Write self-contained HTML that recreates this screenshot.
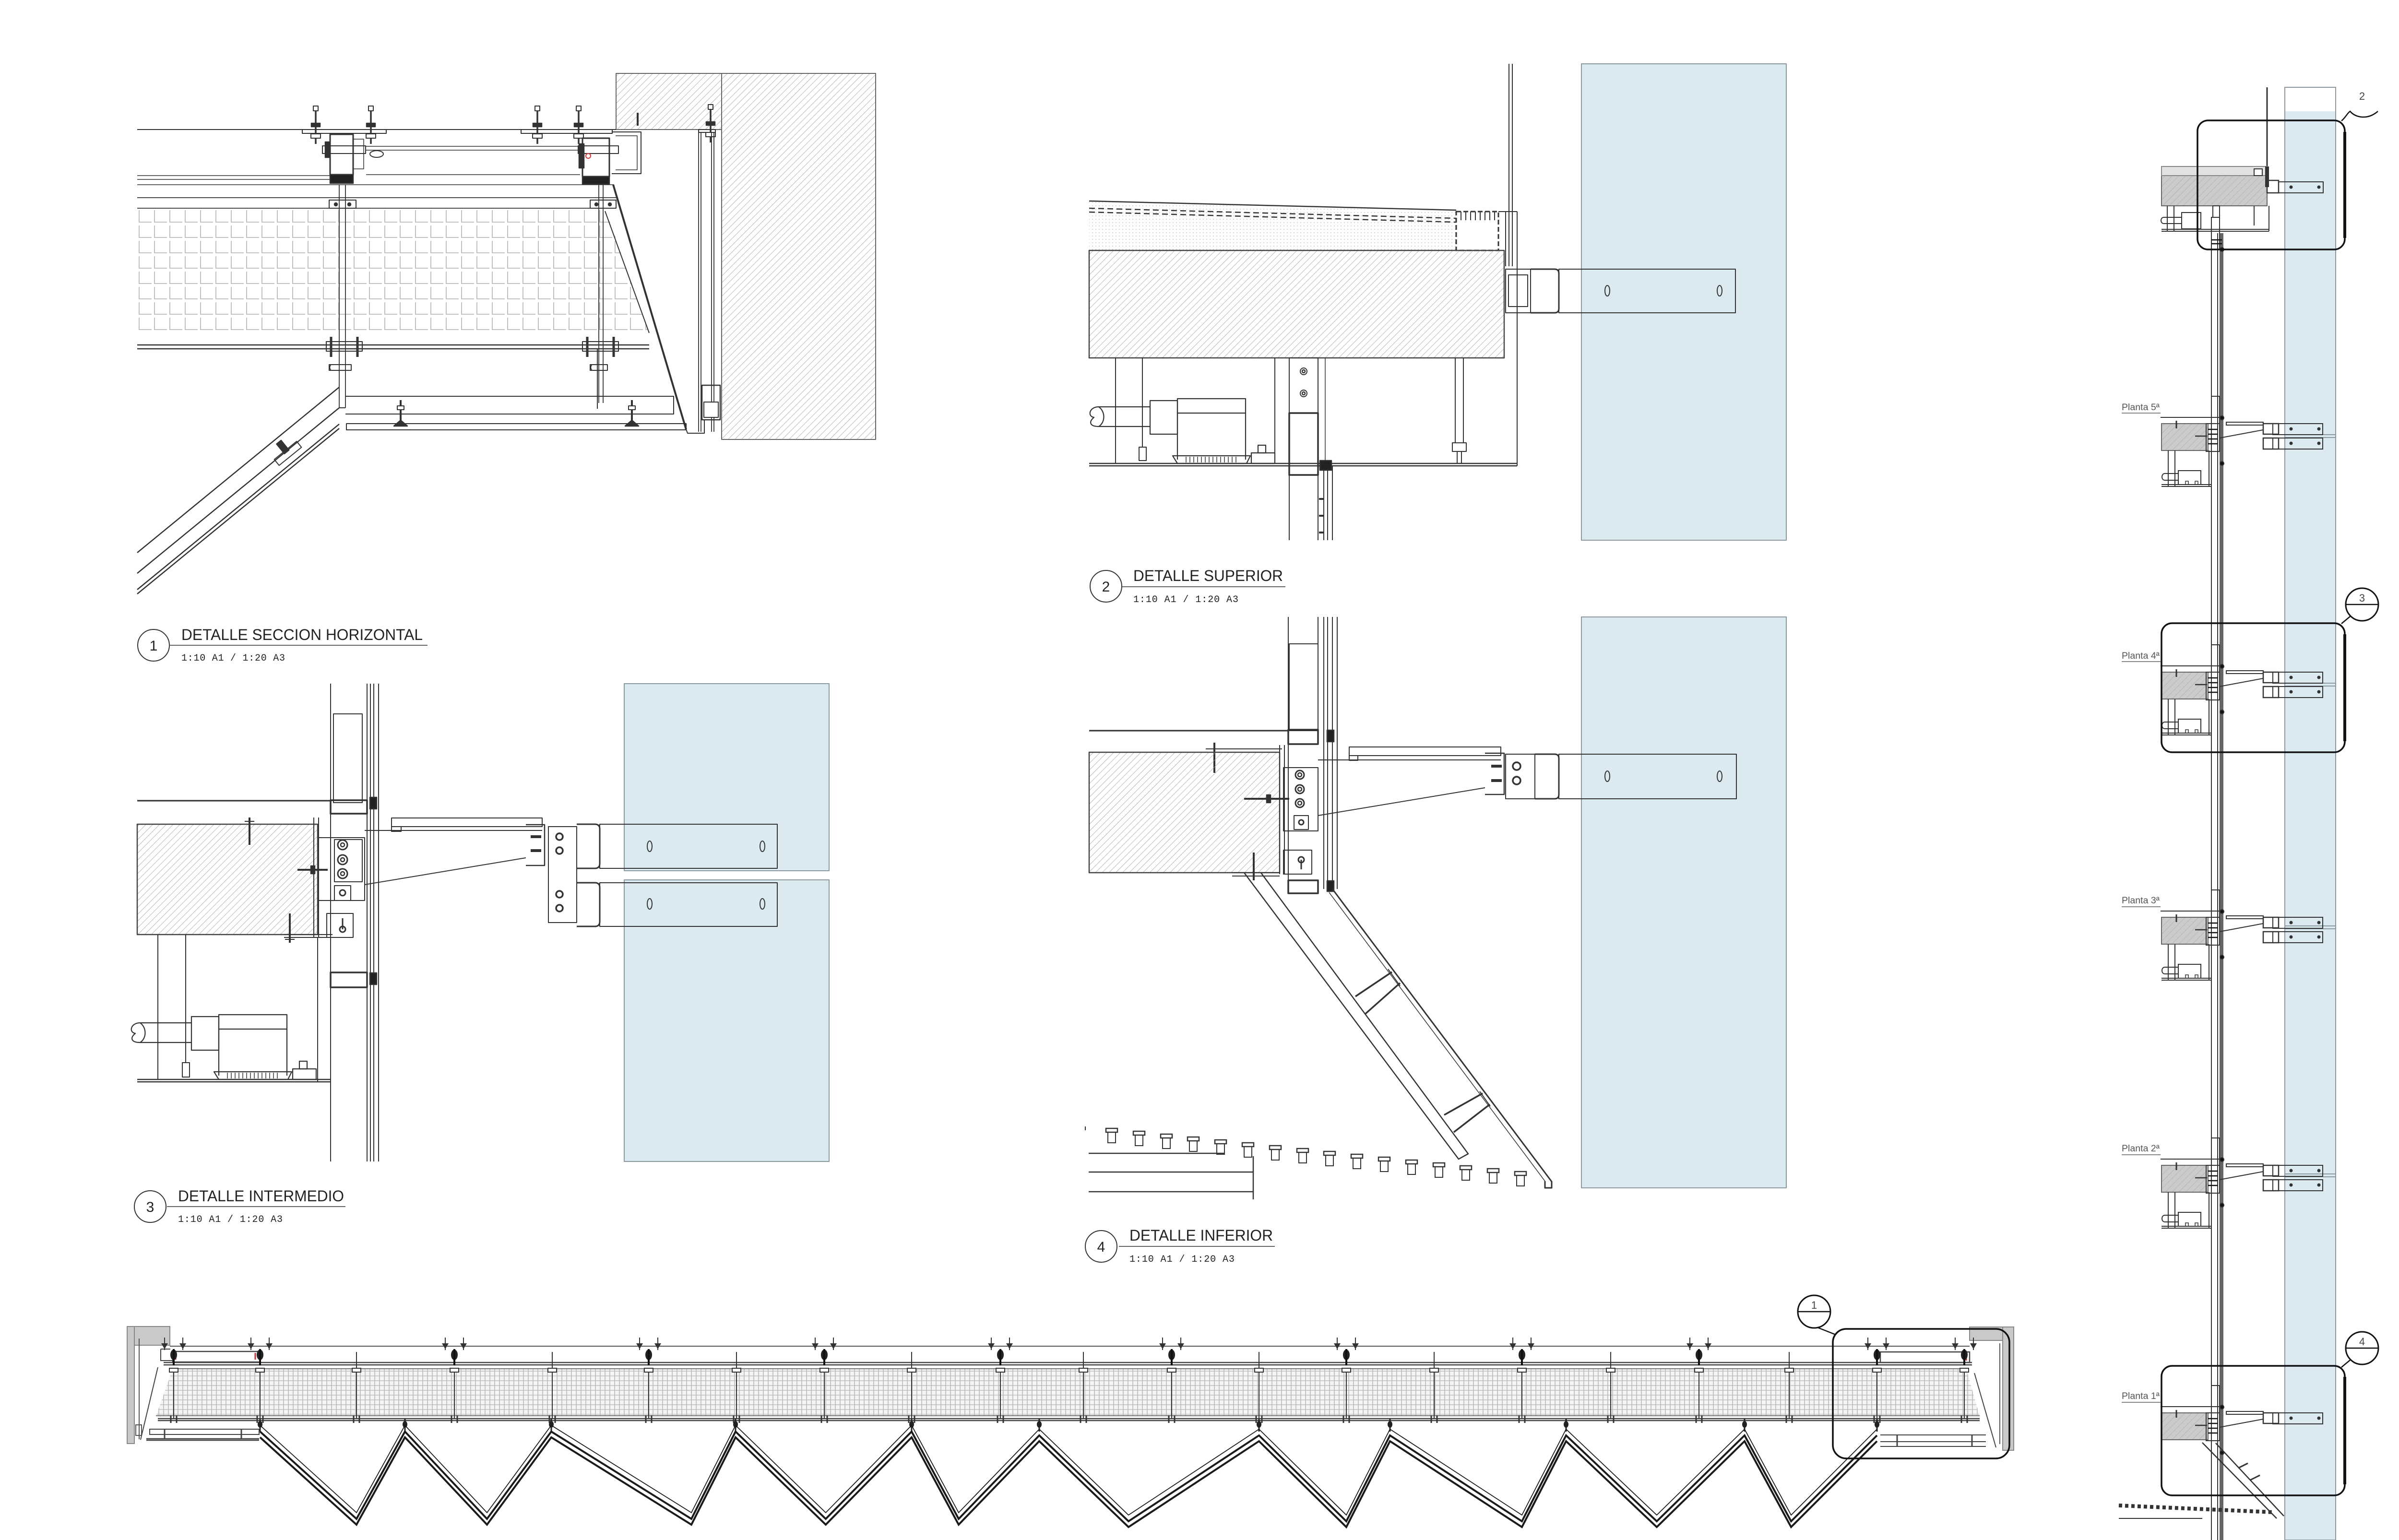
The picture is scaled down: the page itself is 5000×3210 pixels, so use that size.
<!DOCTYPE html>
<html><head><meta charset="utf-8"><title>Detalles fachada</title>
<style>
html,body{margin:0;padding:0;background:#fff;width:5000px;height:3210px;overflow:hidden}
svg{display:block}
</style></head><body>
<svg xmlns="http://www.w3.org/2000/svg" width="5000" height="3210" viewBox="0 0 5000 3210" font-family="'Liberation Sans', Arial, sans-serif">
<defs>
<pattern id="hat" width="10" height="10" patternUnits="userSpaceOnUse" patternTransform="rotate(45)"><line x1="0" y1="0" x2="0" y2="10" stroke="#a2a2a2" stroke-width="1.5"/></pattern>
<pattern id="hatg" width="10" height="10" patternUnits="userSpaceOnUse" patternTransform="rotate(45)"><rect width="10" height="10" fill="#cbcbcb"/><line x1="0" y1="0" x2="0" y2="10" stroke="#adadad" stroke-width="1.5"/></pattern>
<pattern id="grid" x="286" y="435" width="32" height="32" patternUnits="userSpaceOnUse"><path d="M4 3V28H30" fill="none" stroke="#b8b8b8" stroke-width="1.8"/></pattern>
<pattern id="mesh" x="0" y="2853" width="10" height="10" patternUnits="userSpaceOnUse"><rect width="10" height="10" fill="#f5f5f5"/><line x1="1" y1="0" x2="1" y2="10" stroke="#ababab" stroke-width="1.3"/><line x1="0" y1="5" x2="10" y2="5" stroke="#b8b8b8" stroke-width="1.3"/></pattern>
<pattern id="dots" width="7" height="7" patternUnits="userSpaceOnUse"><circle cx="2" cy="2" r="0.9" fill="#b5b5b5"/></pattern>

<g id="stud">
 <line x1="0" y1="0" x2="0" y2="75" stroke="#333" stroke-width="3.5"/>
 <rect x="-5" y="-4" width="10" height="10" fill="#fff" stroke="#333" stroke-width="2"/>
 <rect x="-9" y="32" width="18" height="7" fill="#333"/>
 <rect x="-10" y="54" width="20" height="9" fill="#fff" stroke="#333" stroke-width="2"/>
</g>

<g id="eq" fill="none" stroke="#333" stroke-width="2.2">
 <path d="M2290 848H2397 M2290 889H2397"/>
 <path d="M2290 848C2270 848 2266 868 2280 870C2268 880 2272 889 2290 889"/>
 <path d="M2290 848C2304 858 2304 880 2290 889"/>
 <rect x="2397" y="835" width="57" height="70"/>
 <rect x="2454" y="831" width="142" height="30"/>
 <path d="M2454 861V958 M2596 861V958"/>
 <path d="M2444 950L2454 966H2598L2606 950Z"/>
 <path d="M2472 952v12 M2480 952v12 M2488 952v12 M2496 952v12 M2504 952v12 M2512 952v12 M2520 952v12 M2528 952v12 M2536 952v12 M2544 952v12 M2552 952v12 M2560 952v12 M2568 952v12 M2576 952v12" stroke-width="1.5"/>
 <rect x="2608" y="944" width="49" height="22"/>
 <rect x="2622" y="928" width="16" height="16"/>
</g>

<g id="hg">
 <path d="M-19 2788V2814 M19 2788V2814" stroke="#333" stroke-width="2"/>
 <path d="M-26 2800L-19 2812L-12 2800Z M12 2800L19 2812L26 2800Z" fill="#333"/>
 <ellipse cx="0" cy="2824" rx="7" ry="11" fill="#222"/>
 <path d="M0 2812V2846" stroke="#111" stroke-width="4"/>
 <rect x="-9" y="2852" width="18" height="8" fill="#fff" stroke="#333" stroke-width="2"/>
 <path d="M0 2860V2957" stroke="#333" stroke-width="2"/>
 <path d="M-6 2950V2966 M6 2950V2966" stroke="#333" stroke-width="3"/>
</g>
<g id="rod">
 <path d="M0 2818V2957" stroke="#333" stroke-width="2"/>
 <rect x="-9" y="2852" width="18" height="8" fill="#fff" stroke="#333" stroke-width="2"/>
 <path d="M-6 2950V2966 M6 2950V2966" stroke="#333" stroke-width="3"/>
</g>
<g id="knob">
 <path d="M0 2957V2984" stroke="#222" stroke-width="3"/>
 <ellipse cx="0" cy="2969" rx="5" ry="7" fill="#222"/>
</g>

<g id="lamp">
 <rect x="-12" y="0" width="24" height="8" fill="#fff" stroke="#333" stroke-width="2.5"/>
 <rect x="-8" y="8" width="16" height="22" fill="none" stroke="#333" stroke-width="2"/>
</g>

<g id="flb" fill="none" stroke="#333" stroke-width="2">
 <path d="M4422 -22H4503" stroke="#888"/>
 <path d="M4503 -13H4627"/>
 <rect x="4505" y="0" width="97" height="56" fill="url(#hatg)" stroke="#666"/>
 <path d="M4536 -6V10" stroke-width="3"/>
 <rect x="4609" y="-57" width="17" height="57"/>
 <rect x="4598" y="0" width="28" height="58"/>
 <path d="M4602 12h20 M4602 22h20 M4602 32h20 M4602 42h20" stroke="#111" stroke-width="2.5"/>
 <path d="M4575 26h25" stroke-width="2.5"/>
 <circle cx="4631" cy="-12" r="4" fill="#111"/>
 <circle cx="4631" cy="83" r="4" fill="#111"/>
 <rect x="4640" y="-3" width="77" height="6"/>
 <path d="M4626 30L4717 13"/>
 <rect x="4717" y="0" width="32" height="22" stroke-width="2.5"/>
 <rect x="4737" y="0" width="104" height="23"/>
 <circle cx="4775" cy="11" r="2.5" fill="#333"/><circle cx="4833" cy="11" r="2.5" fill="#333"/>
</g>
<g id="flbr" fill="none" stroke="#333" stroke-width="2">
 <rect x="4717" y="30" width="32" height="23" stroke-width="2.5"/>
 <rect x="4737" y="30" width="104" height="23"/>
 <circle cx="4775" cy="41" r="2.5" fill="#333"/><circle cx="4833" cy="41" r="2.5" fill="#333"/>
</g>
<g id="fleq" fill="none" stroke="#333" stroke-width="2">
 <path d="M4519 56V131 M4533 56V131 M4604 56V131"/>
 <path d="M4505 127H4609 M4505 131H4609"/>
 <rect x="4540" y="98" width="47" height="29"/>
 <path d="M4512 104h28 M4512 118h28 M4512 104c-8 0 -8 14 0 14"/>
 <path d="M4555 128v-8h6v8 M4575 128v-8h6v8" stroke-width="1.5"/>
</g>
</defs>

<rect width="5000" height="3210" fill="#fff"/>

<!-- ================= DETAIL 1 ================= -->
<g fill="none" stroke="#333" stroke-width="2.5" stroke-linejoin="round">
 <rect x="1284" y="153" width="220" height="117" fill="url(#hat)" stroke="#666" stroke-width="2"/>
 <rect x="1504" y="153" width="321" height="763" fill="url(#hat)" stroke="#666" stroke-width="2"/>
 <path d="M286 270H1284" stroke-width="2"/>
 <path d="M630 270H805V278H630Z M1086 270H1276V278H1086Z" stroke-width="2"/>
 <use href="#stud" x="658" y="225"/>
 <use href="#stud" x="773" y="225"/>
 <use href="#stud" x="1120" y="225"/>
 <use href="#stud" x="1206" y="225"/>
 <use href="#stud" x="1481" y="222"/>
 <path d="M1329 235V262" stroke-width="4"/>
 <path d="M1275 275H1336V362H1275" stroke-width="2"/>
 <path d="M1283 283H1328V354H1283" stroke-width="1.5"/>
 <rect x="688" y="280" width="48" height="84" stroke-width="3"/>
 <rect x="672" y="304" width="90" height="16" stroke-width="2"/>
 <rect x="678" y="296" width="8" height="32" fill="#333"/>
 <rect x="688" y="364" width="48" height="18" fill="#222"/>
 <rect x="736" y="290" width="22" height="62" stroke-width="1.5"/>
 <ellipse cx="785" cy="321" rx="14" ry="7" stroke-width="2"/>
 <rect x="1214" y="288" width="56" height="80" stroke-width="3"/>
 <rect x="1205" y="304" width="84" height="16" stroke-width="2"/>
 <rect x="1214" y="368" width="56" height="16" fill="#222"/>
 <rect x="1207" y="300" width="10" height="50" fill="#333"/>
 <circle cx="1226" cy="325" r="5" stroke="#d33" stroke-width="2"/>
 <path d="M763 305H1209 M763 313H1209 M763 364H1209" stroke-width="1.6"/>
 <path d="M286 366H688 M286 374H688 M286 385H1280" stroke-width="1.6"/>
 <path d="M286 412H1284 M286 434H1262" stroke-width="1.8"/>
 <rect x="686" y="417" width="56" height="17" stroke-width="2"/>
 <rect x="1230" y="417" width="54" height="17" stroke-width="2"/>
 <circle cx="700" cy="426" r="3" fill="#333"/><circle cx="728" cy="426" r="3" fill="#333"/>
 <circle cx="1243" cy="426" r="3" fill="#333"/><circle cx="1271" cy="426" r="3" fill="#333"/>
 <polygon points="286,435 1262,435 1353,694 286,694" fill="url(#grid)" stroke="none"/>
 <path d="M1261 440L1353 694" stroke-width="2"/>
 <path d="M707 385V850 M720 385V850 M1248 385V840 M1257 385V840" stroke-width="1.8"/>
 <path d="M286 719H1353 M286 727H1353" stroke-width="2.5"/>
 <rect x="680" y="712" width="75" height="20" stroke-width="2"/>
 <path d="M690 702V744 M745 702V744" stroke-width="5"/>
 <rect x="1214" y="712" width="75" height="20" stroke-width="2"/>
 <path d="M1224 702V744 M1279 702V744" stroke-width="5"/>
 <path d="M686 760h46v12h-46z M1230 760h36v12h-36z" stroke-width="2"/>
 <path d="M690 760a8 8 0 0 0 0 12 M1234 760a8 8 0 0 0 0 12" stroke-width="2"/>
 <path d="M720 826H1404V863H720" stroke-width="2"/>
 <path d="M707 850H720 M1245 727V852" stroke-width="2"/>
 <rect x="722" y="883" width="708" height="13" stroke-width="2"/>
 <path d="M835 834V885 M1317 834V885" stroke-width="4"/>
 <path d="M821 888L835 876L849 888Z M1303 888L1317 876L1331 888Z" fill="#333"/>
 <rect x="828" y="846" width="14" height="8" fill="#fff" stroke-width="2"/>
 <rect x="1310" y="846" width="14" height="8" fill="#fff" stroke-width="2"/>
 <path d="M1278 385L1430 895" stroke-width="4"/>
 <path d="M1456 275V900 M1461 275V900 M1483 275V900 M1488 275V900" stroke-width="1.8"/>
 <rect x="1456" y="270" width="35" height="6" stroke-width="2"/>
 <rect x="1463" y="803" width="38" height="72" stroke-width="2.5"/>
 <rect x="1467" y="838" width="30" height="32" fill="#fff" stroke-width="2"/>
 <path d="M1430 895L1433 903H1468V875" stroke-width="2"/>
 <path d="M707 807L286 1152 M707 850L286 1195 M707 884L286 1229 M707 893L286 1238" stroke-width="2.5"/>
 <g transform="translate(600,945) rotate(-39)"><rect x="-30" y="-8" width="60" height="16" stroke-width="2"/><rect x="-6" y="-30" width="12" height="26" fill="#333"/></g>
</g>
<g fill="#222">
 <circle cx="320" cy="1345" r="33" fill="none" stroke="#333" stroke-width="2"/>
 <text x="320" y="1356" font-size="30" text-anchor="middle">1</text>
 <text x="378" y="1334" font-size="32" textLength="503" lengthAdjust="spacingAndGlyphs">DETALLE SECCION HORIZONTAL</text>
 <line x1="353" y1="1345" x2="891" y2="1345" stroke="#666" stroke-width="2"/>
 <text x="378" y="1377" font-size="20" font-family="'Liberation Mono', monospace" textLength="216" lengthAdjust="spacing">1:10 A1 / 1:20 A3</text>
</g>

<!-- ================= DETAIL 2 ================= -->
<g fill="none" stroke="#333" stroke-width="2.5" stroke-linejoin="round">
 <rect x="3296" y="133" width="427" height="993" fill="#dbeaf0" stroke="#8a9aa0" stroke-width="2"/>
 <path d="M3145 133V555 M3152 133V555" stroke-width="2"/>
 <polygon points="2270,421 3035,441 3035,522 2270,522" fill="url(#dots)" stroke="none"/>
 <path d="M2270 419L3035 438" stroke-width="2.5"/>
 <path d="M2270 434L3035 455 M2270 442L3035 463" stroke-dasharray="12 7" stroke-width="2.5"/>
 <rect x="3035" y="441" width="88" height="81" stroke-dasharray="10 5" stroke-width="3"/>
 <path d="M3045 441v18 M3055 441v18 M3065 441v18 M3075 441v18 M3085 441v18 M3095 441v18 M3105 441v18 M3115 441v18" stroke-width="2"/>
 <path d="M3123 441H3162 M3138 441V555 M3162 441V971" stroke-width="2"/>
 <rect x="2270" y="522" width="865" height="224" fill="url(#hat)" stroke="#444" stroke-width="2.5"/>
 <rect x="3138" y="561" width="52" height="91" stroke-width="2"/>
 <rect x="3144" y="573" width="40" height="66" stroke-width="2"/>
 <path d="M3190 561H3240Q3249 561 3249 570V643Q3249 652 3240 652H3190" stroke-width="3"/>
 <rect x="3249" y="561" width="368" height="91" stroke-width="2"/>
 <ellipse cx="3350" cy="606" rx="5" ry="11" stroke-width="2"/>
 <ellipse cx="3584" cy="606" rx="5" ry="11" stroke-width="2"/>
 <path d="M2270 966H3162 M2270 971H3162" stroke-width="2.5"/>
 <path d="M2325 746V966 M2381 746V932" stroke-width="2"/>
 <rect x="2374" y="932" width="15" height="28" stroke-width="2"/>
 <use href="#eq"/>
 <path d="M2657 746V966" stroke-width="2"/>
 <rect x="2687" y="746" width="60" height="115" stroke-width="2"/>
 <circle cx="2717" cy="774" r="7" stroke-width="2"/><circle cx="2717" cy="774" r="3"/>
 <circle cx="2717" cy="820" r="7" stroke-width="2"/><circle cx="2717" cy="820" r="3"/>
 <rect x="2687" y="861" width="60" height="129" stroke-width="3.5"/>
 <path d="M2687 990V1126 M2747 990V1126 M2759 971V1126 M2767 971V1126 M2777 971V1126" stroke-width="2"/>
 <path d="M2762 746V975" stroke-width="1.5"/>
 <rect x="2751" y="960" width="24" height="20" fill="#222"/>
 <path d="M2749 1040h10 M2749 1075h10 M2749 1110h10" stroke-width="4"/>
 <path d="M3033 746V923 M3050 746V923" stroke-width="2"/>
 <rect x="3027" y="923" width="29" height="18" stroke-width="2"/>
 <path d="M3037 941V966 M3046 941V966" stroke-width="2"/>
</g>
<g fill="#222">
 <circle cx="2305" cy="1222" r="33" fill="none" stroke="#333" stroke-width="2"/>
 <text x="2305" y="1233" font-size="30" text-anchor="middle">2</text>
 <text x="2362" y="1211" font-size="32" textLength="312" lengthAdjust="spacingAndGlyphs">DETALLE SUPERIOR</text>
 <line x1="2339" y1="1223" x2="2679" y2="1223" stroke="#666" stroke-width="2"/>
 <text x="2362" y="1255" font-size="20" font-family="'Liberation Mono', monospace" textLength="219" lengthAdjust="spacing">1:10 A1 / 1:20 A3</text>
</g>

<!-- ================= DETAIL 3 ================= -->
<g fill="none" stroke="#333" stroke-width="2.5" stroke-linejoin="round">
 <rect x="1301" y="1425" width="427" height="390" fill="#dbeaf0" stroke="#8a9aa0" stroke-width="2"/>
 <rect x="1301" y="1834" width="427" height="587" fill="#dbeaf0" stroke="#8a9aa0" stroke-width="2"/>
 <path d="M689 1425V2421" stroke-width="2"/>
 <path d="M765 1425V2421 M772 1425V2421 M779 1425V2421 M789 1425V2421" stroke-width="2"/>
 <rect x="695" y="1488" width="60" height="185" stroke-width="2"/>
 <path d="M286 1669H689" stroke-width="3"/>
 <rect x="689" y="1668" width="76" height="28" stroke-width="3.5"/>
 <rect x="771" y="1662" width="14" height="24" fill="#222"/>
 <rect x="286" y="1718" width="376" height="230" fill="url(#hat)" stroke="#444"/>
 <path d="M654 1704V1954 M664 1704V1954" stroke-width="2"/>
 <rect x="664" y="1746" width="96" height="131" stroke-width="2"/>
 <rect x="697" y="1750" width="58" height="88" stroke-width="2"/>
 <circle cx="714" cy="1761" r="10" stroke-width="3"/><circle cx="714" cy="1761" r="4"/>
 <circle cx="714" cy="1792" r="10" stroke-width="3"/><circle cx="714" cy="1792" r="4"/>
 <circle cx="714" cy="1821" r="10" stroke-width="3"/><circle cx="714" cy="1821" r="4"/>
 <rect x="697" y="1846" width="34" height="31" stroke-width="2"/>
 <circle cx="714" cy="1861" r="6" stroke-width="3"/>
 <path d="M620 1813H683" stroke-width="4"/>
 <rect x="648" y="1805" width="8" height="16" fill="#333"/>
 <path d="M520 1704V1761 M604 1904V1965" stroke-width="4"/>
 <path d="M510 1712h20 M594 1958h20" stroke-width="2"/>
 <rect x="681" y="1904" width="55" height="50" stroke-width="2"/>
 <circle cx="714" cy="1937" r="6" stroke-width="3"/><path d="M714 1914V1937" stroke-width="3"/>
 <path d="M592 1948H693 M592 1954H693" stroke-width="2"/>
 <rect x="689" y="2027" width="76" height="31" stroke-width="3.5"/>
 <rect x="771" y="2028" width="14" height="24" fill="#222"/>
 <path d="M662 1954V2254" stroke-width="2"/>
 <rect x="816" y="1705" width="314" height="18" stroke-width="2"/>
 <path d="M816 1723v10h20v-10" stroke-width="2"/>
 <path d="M760 1731H1130" stroke-width="2"/>
 <path d="M760 1844L1096 1788" stroke-width="2"/>
 <path d="M1096 1719H1135V1804H1096" stroke-width="2.5"/>
 <path d="M1106 1744h22 M1106 1773h22" stroke-width="6"/>
 <rect x="1143" y="1723" width="59" height="200" stroke-width="2"/>
 <circle cx="1166" cy="1744" r="7" stroke-width="3.5"/>
 <circle cx="1166" cy="1773" r="7" stroke-width="3.5"/>
 <circle cx="1166" cy="1864" r="7" stroke-width="3.5"/>
 <circle cx="1166" cy="1893" r="7" stroke-width="3.5"/>
 <path d="M1202 1718H1240Q1250 1718 1250 1728V1800Q1250 1810 1240 1810H1202" stroke-width="3"/>
 <path d="M1202 1840H1240Q1250 1840 1250 1850V1921Q1250 1931 1240 1931H1202" stroke-width="3"/>
 <rect x="1250" y="1718" width="370" height="92" stroke-width="2"/>
 <rect x="1250" y="1840" width="370" height="91" stroke-width="2"/>
 <ellipse cx="1354" cy="1764" rx="5" ry="11" stroke-width="2"/>
 <ellipse cx="1589" cy="1764" rx="5" ry="11" stroke-width="2"/>
 <ellipse cx="1354" cy="1884" rx="5" ry="11" stroke-width="2"/>
 <ellipse cx="1589" cy="1884" rx="5" ry="11" stroke-width="2"/>
 <path d="M329 1948V2250 M387 1948V2215" stroke-width="2"/>
 <rect x="380" y="2215" width="15" height="30" stroke-width="2"/>
 <use href="#eq" transform="translate(-1998,1284)"/>
 <path d="M286 2250H689 M286 2255H689" stroke-width="2.5"/>
</g>
<g fill="#222">
 <circle cx="313" cy="2515" r="33" fill="none" stroke="#333" stroke-width="2"/>
 <text x="313" y="2526" font-size="30" text-anchor="middle">3</text>
 <text x="371" y="2504" font-size="32" textLength="346" lengthAdjust="spacingAndGlyphs">DETALLE INTERMEDIO</text>
 <line x1="348" y1="2515" x2="720" y2="2515" stroke="#666" stroke-width="2"/>
 <text x="371" y="2547" font-size="20" font-family="'Liberation Mono', monospace" textLength="218" lengthAdjust="spacing">1:10 A1 / 1:20 A3</text>
</g>

<!-- ================= DETAIL 4 ================= -->
<g fill="none" stroke="#333" stroke-width="2.5" stroke-linejoin="round">
 <rect x="3296" y="1286" width="427" height="1190" fill="#dbeaf0" stroke="#8a9aa0" stroke-width="2"/>
 <path d="M2685 1286V1853 M2747 1286V1521" stroke-width="2"/>
 <path d="M2759 1286V1853 M2767 1286V1853 M2777 1286V1853 M2787 1286V1853" stroke-width="2"/>
 <rect x="2687" y="1342" width="60" height="181" stroke-width="2"/>
 <path d="M2270 1523H2685" stroke-width="3"/>
 <rect x="2685" y="1521" width="62" height="30" stroke-width="3.5"/>
 <rect x="2766" y="1522" width="14" height="24" fill="#222"/>
 <path d="M2513 1561H2672" stroke-width="2"/>
 <path d="M2531 1548V1611" stroke-width="4"/>
 <rect x="2270" y="1568" width="397" height="251" fill="url(#hat)" stroke="#444"/>
 <path d="M2667 1553V1822 M2677 1553V1822" stroke-width="2"/>
 <rect x="2675" y="1600" width="72" height="132" stroke-width="2"/>
 <circle cx="2709" cy="1615" r="9" stroke-width="3"/><circle cx="2709" cy="1615" r="4"/>
 <circle cx="2709" cy="1645" r="9" stroke-width="3"/><circle cx="2709" cy="1645" r="4"/>
 <circle cx="2709" cy="1674" r="9" stroke-width="3"/><circle cx="2709" cy="1674" r="4"/>
 <rect x="2697" y="1700" width="30" height="29" stroke-width="2"/>
 <circle cx="2712" cy="1714" r="5" stroke-width="3"/>
 <path d="M2593 1665H2687" stroke-width="4"/>
 <rect x="2640" y="1657" width="8" height="16" fill="#333"/>
 <rect x="2675" y="1772" width="59" height="50" stroke-width="2"/>
 <circle cx="2712" cy="1792" r="6" stroke-width="3"/><path d="M2712 1792V1812" stroke-width="3"/>
 <path d="M2613 1777V1835" stroke-width="4"/>
 <path d="M2568 1819H2667 M2568 1826H2667" stroke-width="2"/>
 <rect x="2685" y="1835" width="62" height="27" stroke-width="3.5"/>
 <rect x="2766" y="1836" width="14" height="22" fill="#222"/>
 <rect x="2812" y="1557" width="316" height="18" stroke-width="2"/>
 <path d="M2812 1575v10h18v-10" stroke-width="2"/>
 <path d="M2747 1584H3128" stroke-width="2"/>
 <path d="M2747 1700L3095 1642" stroke-width="2"/>
 <path d="M3095 1570H3135V1656H3095" stroke-width="2.5"/>
 <path d="M3108 1597h22 M3108 1627h22" stroke-width="6"/>
 <rect x="3138" y="1572" width="61" height="93" stroke-width="2"/>
 <circle cx="3161" cy="1597" r="8" stroke-width="3.5"/>
 <circle cx="3161" cy="1627" r="8" stroke-width="3.5"/>
 <path d="M3199 1572H3240Q3249 1572 3249 1581V1656Q3249 1665 3240 1665H3199" stroke-width="3"/>
 <rect x="3249" y="1572" width="370" height="93" stroke-width="2"/>
 <ellipse cx="3350" cy="1618" rx="5" ry="11" stroke-width="2"/>
 <ellipse cx="3584" cy="1618" rx="5" ry="11" stroke-width="2"/>
 <path d="M2593 1819L3040 2416L3060 2405L2628 1819" stroke-width="2.5"/>
 <path d="M2777 1853L3234 2463V2476H3220V2462" stroke-width="3"/>
 <path d="M2770 1860L3220 2462" stroke-width="1.5"/>
 <path d="M2825 2077L2901 2026 M2846 2113L2918 2049" stroke-width="3.5"/>
 <path d="M2893 2020L2918 2055" stroke-width="2"/>
 <path d="M3010 2324L3090 2279 M3030 2360L3105 2302" stroke-width="3.5"/>
 <path d="M3084 2275L3106 2306" stroke-width="2"/>
 <path d="M2269 2404H2551 M2269 2443H2612 M2269 2484H2612 M2612 2410V2500" stroke-width="2.5"/>
 <path d="M2262 2348v8" stroke-width="2"/>
</g>
<use href="#lamp" x="2317" y="2352"/><use href="#lamp" x="2374" y="2358"/>
<use href="#lamp" x="2431" y="2364"/><use href="#lamp" x="2487" y="2370"/>
<use href="#lamp" x="2544" y="2376"/><use href="#lamp" x="2601" y="2382"/>
<use href="#lamp" x="2658" y="2388"/><use href="#lamp" x="2715" y="2394"/>
<use href="#lamp" x="2771" y="2400"/><use href="#lamp" x="2828" y="2406"/>
<use href="#lamp" x="2885" y="2412"/><use href="#lamp" x="2942" y="2418"/>
<use href="#lamp" x="2999" y="2424"/><use href="#lamp" x="3055" y="2430"/>
<use href="#lamp" x="3112" y="2436"/><use href="#lamp" x="3169" y="2442"/>
<g fill="#222">
 <circle cx="2295" cy="2598" r="33" fill="none" stroke="#333" stroke-width="2"/>
 <text x="2295" y="2609" font-size="30" text-anchor="middle">4</text>
 <text x="2354" y="2586" font-size="32" textLength="299" lengthAdjust="spacingAndGlyphs">DETALLE INFERIOR</text>
 <line x1="2332" y1="2598" x2="2657" y2="2598" stroke="#666" stroke-width="2"/>
 <text x="2354" y="2630" font-size="20" font-family="'Liberation Mono', monospace" textLength="219" lengthAdjust="spacing">1:10 A1 / 1:20 A3</text>
</g>

<!-- ================= BOTTOM STRIP ================= -->
<g fill="none" stroke="#444" stroke-width="2">
 <rect x="265" y="2765" width="89" height="39" fill="#c9c9c9" stroke="#888"/>
 <rect x="265" y="2765" width="15" height="244" fill="#c9c9c9" stroke="#888"/>
 <rect x="4105" y="2766" width="92" height="28" fill="#c9c9c9" stroke="#888"/>
 <rect x="4174" y="2766" width="23" height="257" fill="#c9c9c9" stroke="#888"/>
 <path d="M290 2790V3000 M4168 2800V3010" stroke="#555"/>
 <rect x="283" y="2970" width="12" height="22" stroke="#555"/>
 <path d="M354 2806H4105" stroke="#555"/>
 <path d="M341 2840H4110 M341 2845H4110" stroke-width="2.5"/>
 <polygon points="360,2853 4098,2853 4126,2952 325,2952" fill="url(#mesh)" stroke="none"/>
 <path d="M360 2853H4098 M325 2951H4126" stroke="#777" stroke-width="2"/>
 <path d="M329 2957H4126 M329 2961H4126" stroke-width="2.5"/>
 <path d="M329 2850L293 3001 M4115 2862L4160 3017" stroke-width="2"/>
 <path d="M335 2812V2836H360 M335 2812H355" stroke-width="2"/>
 <rect x="360" y="2817" width="182" height="22" stroke-width="2.5"/>
 <path d="M366 2820v14 M532 2820v14" stroke="#c33" stroke-width="3"/>
 <rect x="3919" y="2818" width="186" height="22" stroke-width="2.5"/>
 <path d="M4098 2822v14" stroke="#c33" stroke-width="3"/>
 <path d="M312 2979H540V2990H312Z" stroke-width="2"/>
 <path d="M305 2999H540 M305 3002H540" stroke-width="2.5"/>
 <path d="M343 2980V3000 M503 2980V3000" stroke-width="3"/>
 <path d="M3919 2991H4139 M3919 3005H4139 M3919 3015H4139" stroke-width="2"/>
 <path d="M3954 2990V3015 M4110 2990V3015" stroke-width="3"/>
</g>
<use href="#hg" x="362"/><use href="#hg" x="542"/><use href="#hg" x="947"/><use href="#hg" x="1352"/>
<use href="#hg" x="1718"/><use href="#hg" x="2085"/><use href="#hg" x="2442"/><use href="#hg" x="2806"/>
<use href="#hg" x="3172"/><use href="#hg" x="3541"/><use href="#hg" x="3912"/><use href="#hg" x="4094"/>
<use href="#rod" x="743"/><use href="#rod" x="1151"/><use href="#rod" x="1535"/><use href="#rod" x="1900"/>
<use href="#rod" x="2258"/><use href="#rod" x="2624"/><use href="#rod" x="2989"/><use href="#rod" x="3357"/><use href="#rod" x="3729"/>
<use href="#knob" x="542"/><use href="#knob" x="844"/><use href="#knob" x="1149"/><use href="#knob" x="1533"/>
<use href="#knob" x="1900"/><use href="#knob" x="2166"/><use href="#knob" x="2624"/><use href="#knob" x="2897"/>
<use href="#knob" x="3264"/><use href="#knob" x="3636"/><use href="#knob" x="3912"/>
<g fill="none" stroke="#1a1a1a" stroke-linejoin="miter">
 <polyline stroke-width="1.8" points="542,2971 743,3153 844,2971 1015,3153 1149,2971 1441,3153 1533,2971 1721,3153 1900,2971 1998,3153 2166,2979 2352,3158 2624,2979 2806,3158 2897,2979 3172,3158 3264,2979 3453,3158 3636,2979 3733,3158 3912,2979"/>
 <polyline transform="translate(0,13)" stroke-width="4" points="542,2971 743,3153 844,2971 1015,3153 1149,2971 1441,3153 1533,2971 1721,3153 1900,2971 1998,3153 2166,2979 2352,3158 2624,2979 2806,3158 2897,2979 3172,3158 3264,2979 3453,3158 3636,2979 3733,3158 3912,2979"/>
 <polyline transform="translate(0,25)" stroke-width="4" points="542,2971 743,3153 844,2971 1015,3153 1149,2971 1441,3153 1533,2971 1721,3153 1900,2971 1998,3153 2166,2979 2352,3158 2624,2979 2806,3158 2897,2979 3172,3158 3264,2979 3453,3158 3636,2979 3733,3158 3912,2979"/>
</g>
<g fill="none" stroke="#111">
 <rect x="3820" y="2770" width="368" height="270" rx="28" stroke-width="3.5"/>
 <path d="M3788 2767L3826 2782" stroke-width="2.5"/>
 <circle cx="3781" cy="2734" r="34" stroke-width="3" fill="#fff"/>
 <path d="M3747 2734H3815" stroke-width="2.5"/>
</g>
<text x="3781" y="2728" font-size="22" text-anchor="middle" fill="#444">1</text>

<!-- ================= RIGHT ELEVATION ================= -->
<g fill="none" stroke="#333" stroke-width="2">
 <rect x="4762" y="182" width="106" height="3028" fill="#dbeaf0" stroke="#8a9aa0"/>
 <rect x="4763" y="183" width="104" height="49" fill="#fff" stroke="none"/>
 <path d="M4762 906H4868 M4762 912H4868 M4762 1424H4868 M4762 1430H4868 M4762 1930H4868 M4762 1936H4868 M4762 2447H4868 M4762 2453H4868" stroke="#8a9aa0"/>
 <path d="M4725 182V352" stroke-width="3"/>
 <path d="M4609 455V3210 M4622 486V3210"/>
 <rect x="4626" y="486" width="8" height="2724" fill="#666" stroke="none"/>
 <rect x="4505" y="347" width="220" height="82" fill="url(#hatg)" stroke="#666"/>
 <rect x="4505" y="347" width="220" height="19" fill="#e2e2e2" stroke="#888"/>
 <rect x="4698" y="352" width="17" height="14" fill="#fff"/>
 <rect x="4721" y="347" width="8" height="43" fill="#333" stroke="none"/>
 <rect x="4725" y="376" width="24" height="26" stroke-width="2.5"/>
 <rect x="4749" y="379" width="93" height="23"/>
 <circle cx="4775" cy="390" r="2.5" fill="#333"/><circle cx="4833" cy="390" r="2.5" fill="#333"/>
 <path d="M4517 429V482 M4531 429V482 M4698 429V470 M4729 429V482"/>
 <path d="M4505 478H4729 M4505 482H4729"/>
 <rect x="4547" y="443" width="40" height="34"/>
 <path d="M4510 453h37 M4510 466h37 M4510 453c-8 0 -8 13 0 13"/>
 <rect x="4609" y="453" width="17" height="67"/>
 <rect x="4612" y="429" width="14" height="24"/>
 <path d="M4609 500h22 M4609 508h22" stroke="#111" stroke-width="2.5"/>
 <circle cx="4631" cy="520" r="4" fill="#111"/>
</g>
<use href="#flb" y="883"/><use href="#flbr" y="883"/><use href="#fleq" y="883"/>
<use href="#flb" y="1401"/><use href="#flbr" y="1401"/><use href="#fleq" y="1401"/>
<use href="#flb" y="1912"/><use href="#flbr" y="1912"/><use href="#fleq" y="1912"/>
<use href="#flb" y="2429"/><use href="#flbr" y="2429"/><use href="#fleq" y="2429"/>
<use href="#flb" y="2945"/>
<g fill="#555" font-size="19">
 <text x="4422" y="855" textLength="79" lengthAdjust="spacingAndGlyphs">Planta 5ª</text>
 <text x="4422" y="1373" textLength="79" lengthAdjust="spacingAndGlyphs">Planta 4ª</text>
 <text x="4422" y="1883" textLength="79" lengthAdjust="spacingAndGlyphs">Planta 3ª</text>
 <text x="4422" y="2400" textLength="79" lengthAdjust="spacingAndGlyphs">Planta 2ª</text>
 <text x="4422" y="2916" textLength="79" lengthAdjust="spacingAndGlyphs">Planta 1ª</text>
</g>
<g fill="none" stroke="#333" stroke-width="2.5">
 <path d="M4590 3007L4745 3165 M4618 3008L4760 3160" />
 <path d="M4665 3060l20 -10 M4690 3085l20 -10" stroke-width="3"/>
 <path d="M4416 3138L4737 3152" stroke-width="8" stroke-dasharray="7 6"/>
 <path d="M4416 3165H4590" stroke-width="2"/>
</g>
<g fill="none" stroke="#111">
 <rect x="4580" y="251" width="307" height="269" rx="22" stroke-width="3.5"/>
 <path d="M4887 275V496" stroke-width="6"/>
 <rect x="4505" y="1299" width="382" height="269" rx="22" stroke-width="3.5"/>
 <path d="M4887 1322V1545" stroke-width="6"/>
 <rect x="4505" y="2847" width="382" height="270" rx="22" stroke-width="3.5"/>
 <path d="M4887 2870V3094" stroke-width="6"/>
 <path d="M4880 252C4888 246 4892 236 4898 232C4910 246 4935 250 4956 232" stroke-width="2.5"/>
 <path d="M4898 1285L4880 1300" stroke-width="2.5"/>
 <circle cx="4923" cy="1260" r="34" stroke-width="3" fill="#fff"/>
 <path d="M4889 1260H4957" stroke-width="2.5"/>
 <path d="M4898 2835L4880 2850" stroke-width="2.5"/>
 <circle cx="4923" cy="2810" r="34" stroke-width="3" fill="#fff"/>
 <path d="M4889 2810H4957" stroke-width="2.5"/>
</g>
<g fill="#444" font-size="22" text-anchor="middle">
 <text x="4923" y="208">2</text>
 <text x="4923" y="1254">3</text>
 <text x="4923" y="2804">4</text>
</g>
</svg>
</body></html>
